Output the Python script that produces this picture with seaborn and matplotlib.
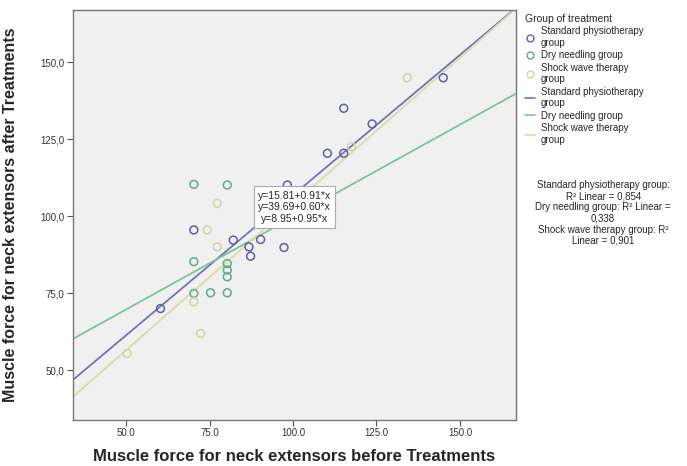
import matplotlib
matplotlib.use("Agg")
import matplotlib.pyplot as plt
from matplotlib.lines import Line2D
import numpy as np
import pandas as pd
import seaborn as sns

# Muscle force before / after treatment, by group
std_before = [60.3, 70.3, 82.1, 86.8, 87.3, 90.3, 97.3, 110.3, 115.2, 115.2, 123.7, 145.0, 98.3]
std_after = [70.0, 95.5, 92.2, 90.0, 87.0, 92.4, 89.8, 120.4, 120.4, 135.0, 129.9, 144.9, 110.1]
dry_before = [70.3, 80.3, 70.3, 80.3, 80.3, 80.3, 70.3, 75.3, 80.3]
dry_after = [110.3, 110.1, 85.2, 84.6, 82.5, 80.3, 74.9, 75.1, 75.1]
shock_before = [50.3, 70.3, 72.3, 77.3, 77.3, 74.3, 117.5, 134.2]
shock_after = [55.4, 72.2, 61.9, 90.0, 104.1, 95.5, 122.5, 144.9]

groups = ["Standard physiotherapy group", "Dry needling group", "Shock wave therapy group"]
legend_labels = ["Standard physiotherapy\ngroup", "Dry needling group", "Shock wave therapy\ngroup"]
point_colors = ["#5c60a6", "#5aad86", "#d6d4a0"]
line_colors = ["#6f73b6", "#7cc39c", "#dcdaa6"]

# Linear fit per group: intercept, slope, R squared
fit_intercept = [15.81, 39.69, 8.95]
fit_slope = [0.91, 0.60, 0.95]
fit_r2 = ["0,854", "0,338", "0,901"]

x_ticks = [50, 75, 100, 125, 150]
x_ticklabels = ["50.0", "75.0", "100.0", "125.0", "150.0"]
y_ticks = [50, 75, 100, 125, 150]
y_ticklabels = ["50,0", "75,0", "100,0", "125,0", "150,0"]

xlim = (34.0, 166.8)
ylim = (33.8, 166.9)

sns.set_theme(style="white")
plt.rcParams["font.family"] = ["Liberation Sans", "DejaVu Sans"]

fig = plt.figure(figsize=(6.87, 4.66), dpi=100)
ax = fig.add_axes([0.1058, 0.0987, 0.6453, 0.8798])
ax.set_facecolor("#f0f0f0")

xs = [std_before, dry_before, shock_before]
ys = [std_after, dry_after, shock_after]

# fit lines across the whole axis range
for col, a, b in zip(line_colors, fit_intercept, fit_slope):
    lx = np.array(xlim)
    line_df = pd.DataFrame({"x": lx, "y": a + b * lx})
    sns.lineplot(data=line_df, x="x", y="y", ax=ax, color=col, linewidth=1.3, zorder=2)

# observations as open circles
for col, bx, by in zip(point_colors, xs, ys):
    df = pd.DataFrame({"before": bx, "after": by})
    sns.scatterplot(data=df, x="before", y="after", ax=ax, marker="o", s=32,
                    facecolor="none", edgecolor=col, linewidth=1.1, zorder=3)

ax.set_xlim(*xlim)
ax.set_ylim(*ylim)
ax.set_xticks(x_ticks)
ax.set_xticklabels(x_ticklabels, fontsize=7, color="#333333")
ax.set_yticks(y_ticks)
ax.set_yticklabels(y_ticklabels, fontsize=7, color="#333333")
ax.tick_params(axis="both", which="both", length=4, width=0.8, color="#555555",
               direction="out", bottom=True, left=True, pad=2)
for s in ax.spines.values():
    s.set_color("#777777")
    s.set_linewidth(1.0)

ax.set_xlabel("Muscle force for neck extensors before Treatments", fontsize=12,
              fontweight="bold")
ax.set_ylabel("Muscle force for neck extensors after Treatments", fontsize=11.5,
              fontweight="bold")
ax.xaxis.set_label_coords(0.5, -0.07)
ax.yaxis.set_label_coords(-0.124, 0.5)

# equations of the fit lines
eq_lines = [f"y={a:.2f}+{b:.2f}*x" for a, b in zip(fit_intercept, fit_slope)]
ax.text(100.5, 102.9, "\n".join(eq_lines), fontsize=7.5, ha="center", va="center",
        linespacing=1.2, zorder=5,
        bbox=dict(boxstyle="square,pad=0.4", facecolor="white", edgecolor="#aaaaaa", linewidth=0.8))

# legend: markers then fit lines
handles = []
labels = []
for col, lab in zip(point_colors, legend_labels):
    handles.append(Line2D([], [], marker="o", linestyle="none", markerfacecolor="none",
                          markeredgecolor=col, markersize=5, markeredgewidth=1))
    labels.append(lab)
for col, lab in zip(line_colors, legend_labels):
    handles.append(Line2D([], [], color=col, linewidth=1.2))
    labels.append(lab)
leg = fig.legend(handles, labels, loc="upper left", bbox_to_anchor=(0.755, 0.985),
                 frameon=False, title="Group of treatment", fontsize=7,
                 title_fontsize=7.5, handlelength=1.0, handletextpad=0.6,
                 labelspacing=0.25, borderpad=0.2)
leg._legend_box.align = "left"

r2_text = ("Standard physiotherapy group:\nR\u00b2 Linear = " + fit_r2[0] +
           "\nDry needling group: R\u00b2 Linear =\n" + fit_r2[1] +
           "\nShock wave therapy group: R\u00b2\nLinear = " + fit_r2[2])
fig.text(0.878, 0.543, r2_text, fontsize=7, ha="center", va="center", linespacing=1.15)

fig.savefig("out.png", dpi=100, facecolor="white")
